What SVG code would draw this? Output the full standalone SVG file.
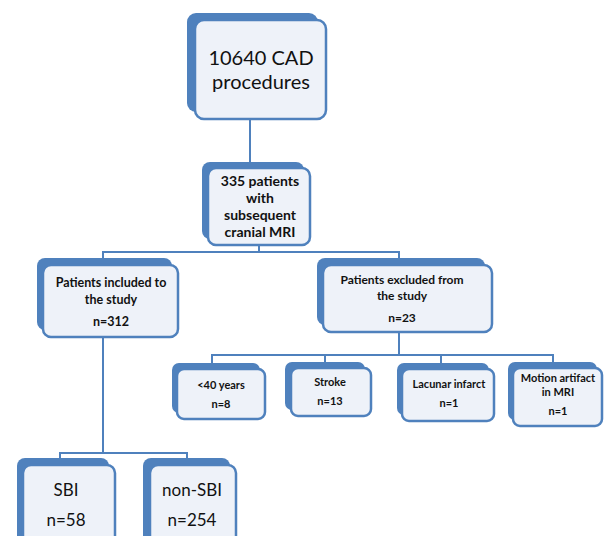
<svg xmlns="http://www.w3.org/2000/svg" width="604" height="536" viewBox="0 0 604 536">
<style>
.back{fill:#4f81bd}
.front{fill:#eef2f9;stroke:#4f81bd;stroke-width:2.5}
.halo{fill:none;stroke:#ffffff;stroke-width:2}
.t{font-family:Lato,"Liberation Sans",sans-serif;fill:#111;text-anchor:middle}
.b{font-weight:bold}
.conn{fill:none;stroke:#4f81bd;stroke-width:2}
</style>
<rect width="604" height="536" fill="#ffffff"/>
<g id="connectors">
<path class="conn" d="M250 119V163"/>
<path class="conn" d="M259 245V252M103 259V252H399V259"/>
<path class="conn" d="M399 332V355M212 363V355H553V363M325 355V363M441 355V363"/>
<path class="conn" d="M103 337V453M60 459V453H187V459"/>
</g>
<g id="n1">
<rect class="back" x="187" y="13" width="131" height="99" rx="9"/>
<rect class="front" x="195" y="20" width="131" height="99" rx="9"/>
<text class="t" x="261" y="65" font-size="20">10640 CAD</text>
<text class="t" x="261" y="89" font-size="20">procedures</text>
</g>
<g id="n2">
<rect class="back" x="202" y="162" width="102" height="77" rx="8"/>
<rect class="front" x="208" y="168" width="102" height="77" rx="8"/>
<text class="t b" x="260" y="186" font-size="14">335 patients</text>
<text class="t b" x="260" y="203" font-size="14">with</text>
<text class="t b" x="260" y="220" font-size="14">subsequent</text>
<text class="t b" x="260" y="237" font-size="14">cranial MRI</text>
</g>
<g id="n3">
<rect class="back" x="37" y="258" width="135" height="72" rx="8"/>
<rect class="front" x="43" y="265" width="135" height="72" rx="8"/>
<text class="t b" x="111" y="287" font-size="12.5">Patients included to</text>
<text class="t b" x="111" y="304" font-size="12.5">the study</text>
<text class="t b" x="111" y="326" font-size="12.5">n=312</text>
</g>
<g id="n4">
<rect class="back" x="317" y="258" width="168" height="67" rx="8"/>
<rect class="front" x="323" y="265" width="169" height="67" rx="8"/>
<text class="t b" x="402" y="284" font-size="12">Patients excluded from</text>
<text class="t b" x="402" y="300" font-size="12">the study</text>
<text class="t b" x="402" y="322" font-size="12">n=23</text>
</g>
<g id="n5">
<rect class="back" x="172" y="363" width="88" height="50" rx="7"/>
<rect class="front" x="177" y="369" width="88" height="50" rx="7"/>
<text class="t b" x="221" y="389" font-size="11">&lt;40 years</text>
<text class="t b" x="221" y="408" font-size="11">n=8</text>
</g>
<g id="n6">
<rect class="back" x="285" y="362" width="80" height="48" rx="7"/>
<rect class="front" x="291" y="368" width="80" height="48" rx="7"/>
<text class="t b" x="330" y="386" font-size="11">Stroke</text>
<text class="t b" x="330" y="405" font-size="11">n=13</text>
</g>
<g id="n7">
<rect class="back" x="397" y="363" width="92" height="52" rx="7"/>
<rect class="front" x="402" y="369" width="92" height="52" rx="7"/>
<text class="t b" x="449" y="388" font-size="11">Lacunar infarct</text>
<text class="t b" x="449" y="407" font-size="11">n=1</text>
</g>
<g id="n8">
<rect class="back" x="508" y="362" width="89" height="58" rx="7"/>
<rect class="front" x="513" y="368" width="89" height="58" rx="7"/>
<text class="t b" x="558" y="382" font-size="11">Motion artifact</text>
<text class="t b" x="558" y="396" font-size="11">in MRI</text>
<text class="t b" x="558" y="415" font-size="11">n=1</text>
</g>
<g id="n9">
<rect class="back" x="17" y="458" width="92" height="90" rx="8"/>
<rect class="front" x="23" y="465" width="92" height="90" rx="8"/>
<text class="t" x="66" y="496" font-size="17">SBI</text>
<text class="t" x="66" y="526" font-size="17">n=58</text>
</g>
<g id="n10">
<rect class="back" x="143" y="458" width="87" height="90" rx="8"/>
<rect class="front" x="150" y="465" width="86" height="90" rx="8"/>
<text class="t" x="192" y="496" font-size="17">non-SBI</text>
<text class="t" x="192" y="526" font-size="17">n=254</text>
</g>
</svg>
